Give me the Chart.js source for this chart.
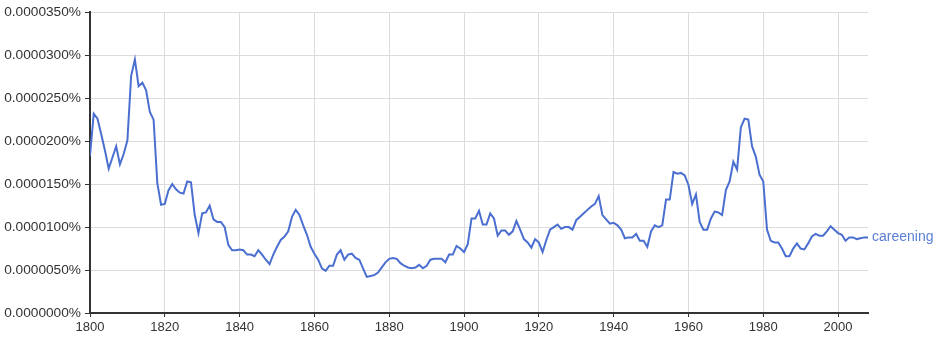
<!DOCTYPE html>
<html>
<head>
<meta charset="utf-8">
<script src="https://cdn.jsdelivr.net/npm/chart.js@4"></script>
<style>
  html, body { margin: 0; padding: 0; background: #fff; }
  #wrap { width: 939px; height: 338px; position: relative; }
</style>
</head>
<body>
<div id="wrap"><canvas id="ngramChart"></canvas></div>
<script>
// values are in units of 0.00001 %
const startYear = 1800;
const endYear = 2008;
const careening = [
  1.83, 2.32, 2.26, 2.08, 1.89, 1.68, 1.81, 1.94, 1.73, 1.85,
  2.01, 2.76, 2.95, 2.64, 2.68, 2.59, 2.34, 2.25, 1.51, 1.26,
  1.27, 1.43, 1.50, 1.44, 1.40, 1.39, 1.53, 1.52, 1.14, 0.93,
  1.16, 1.17, 1.25, 1.09, 1.06, 1.06, 1.00, 0.79, 0.73, 0.73,
  0.74, 0.73, 0.68, 0.68, 0.66, 0.73, 0.68, 0.62, 0.57, 0.68,
  0.77, 0.85, 0.89, 0.95, 1.12, 1.20, 1.14, 1.02, 0.91, 0.77,
  0.69, 0.62, 0.52, 0.49, 0.55, 0.55, 0.68, 0.73, 0.62, 0.68,
  0.69, 0.64, 0.62, 0.52, 0.42, 0.43, 0.44, 0.47, 0.53, 0.59,
  0.63, 0.64, 0.63, 0.58, 0.55, 0.53, 0.52, 0.53, 0.56, 0.52,
  0.55, 0.62, 0.63, 0.63, 0.63, 0.59, 0.68, 0.68, 0.78, 0.75,
  0.71, 0.80, 1.10, 1.10, 1.19, 1.03, 1.03, 1.16, 1.10, 0.90,
  0.96, 0.96, 0.91, 0.95, 1.07, 0.97, 0.86, 0.82, 0.76, 0.86,
  0.82, 0.71, 0.85, 0.97, 1.00, 1.03, 0.98, 1.00, 1.00, 0.97,
  1.08, 1.12, 1.16, 1.20, 1.24, 1.27, 1.36, 1.14, 1.09, 1.04,
  1.05, 1.02, 0.97, 0.87, 0.88, 0.88, 0.92, 0.84, 0.84, 0.77,
  0.95, 1.02, 1.00, 1.02, 1.32, 1.32, 1.64, 1.62, 1.63, 1.60,
  1.49, 1.27, 1.38, 1.06, 0.97, 0.97, 1.10, 1.18, 1.17, 1.14,
  1.43, 1.53, 1.76, 1.67, 2.16, 2.26, 2.25, 1.94, 1.82, 1.61,
  1.53, 0.97, 0.84, 0.82, 0.82, 0.75, 0.66, 0.66, 0.75, 0.81,
  0.75, 0.74, 0.81, 0.89, 0.92, 0.90, 0.90, 0.95, 1.01, 0.97,
  0.93, 0.91, 0.84, 0.88, 0.88, 0.86, 0.87, 0.88, 0.88
];
const seriesName = 'careening';
const xTickYears = [1800, 1820, 1840, 1860, 1880, 1900, 1920, 1940, 1960, 1980, 2000];
const yTickLabels = [
  '0.0000000%', '0.0000050%', '0.0000100%', '0.0000150%',
  '0.0000200%', '0.0000250%', '0.0000300%', '0.0000350%'
];

const years = [];
for (let y = startYear; y <= endYear; y++) years.push(y);
const points = years.map((y, i) => ({ x: y, y: careening[i] }));

// series name written at the end of the line
const endLabel = {
  id: 'endLabel',
  afterDatasetsDraw(chart) {
    const meta = chart.getDatasetMeta(0);
    const last = meta.data[meta.data.length - 1];
    const ctx = chart.ctx;
    ctx.save();
    ctx.font = '14px "Liberation Sans", Arial, sans-serif';
    ctx.fillStyle = '#5a7fd6';
    ctx.textBaseline = 'middle';
    ctx.textAlign = 'left';
    ctx.fillText(seriesName, last.x + 4, last.y);
    ctx.restore();
  }
};

const ctx = document.getElementById('ngramChart').getContext('2d');
const chart = new Chart(ctx, {
  type: 'line',
  data: {
    datasets: [{
      label: seriesName,
      data: points,
      borderColor: '#4a6fd0',
      borderWidth: 2,
      pointRadius: 0,
      tension: 0,
      fill: false
    }]
  },
  options: {
    responsive: true,
    maintainAspectRatio: false,
    animation: false,
    layout: { padding: { top: 11, right: 71, left: 0, bottom: 0 } },
    plugins: {
      legend: { display: false },
      tooltip: { enabled: false }
    },
    scales: {
      x: {
        type: 'linear',
        min: startYear,
        max: endYear,
        afterBuildTicks: s => { s.ticks = xTickYears.map(v => ({ value: v })); },
        afterFit: s => { s.height = 25; },
        grid: { color: '#dcdcdc', tickColor: '#333', tickLength: 4 },
        border: { color: '#333', width: 2 },
        ticks: {
          color: '#333',
          padding: 3,
          maxRotation: 0,
          font: { family: '"Liberation Sans", Arial, sans-serif', size: 13 },
          callback: v => String(v)
        }
      },
      y: {
        min: 0,
        max: 3.5,
        afterFit: s => { s.width = 90; },
        grid: { color: '#dcdcdc', tickColor: '#333', tickLength: 5 },
        border: { color: '#333', width: 2 },
        ticks: {
          stepSize: 0.5,
          color: '#333',
          padding: 4,
          font: { family: '"Liberation Sans", Arial, sans-serif', size: 13.7 },
          callback: (v, i) => yTickLabels[i]
        }
      }
    }
  },
  plugins: [endLabel]
});
</script>
</body>
</html>
